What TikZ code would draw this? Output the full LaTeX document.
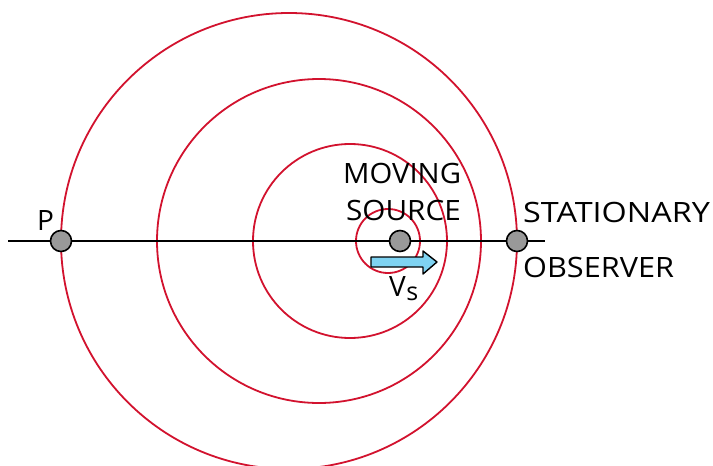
\documentclass[tikz,border=0pt]{standalone}
\usepackage{fontspec}
\setmainfont{Open Sans}
\definecolor{wavered}{HTML}{D2122E}
\definecolor{dotgrey}{HTML}{999999}
\definecolor{arrowblue}{HTML}{7FD3F2}
\begin{document}
\begin{tikzpicture}[x=1pt,y=-1pt,
  wave/.style={draw=wavered,line width=1.8pt},
  particle/.style={circle,draw=black,fill=dotgrey,line width=1.6pt,minimum size=21pt,inner sep=0pt},
  lbl/.style={font=\fontsize{28}{30}\selectfont,inner sep=0pt,anchor=base west}]
\clip (0,0) rectangle (713,466);
\useasboundingbox (0,0) rectangle (713,466);
\fill[white] (0,0) rectangle (713,466);
% wavefronts
\draw[wave] (289,241) circle (228);
\draw[wave] (319,241) circle (162);
\draw[wave] (350,241) circle (97);
\draw[wave] (388,241) circle (32);
% line
\coordinate (lstart) at (8,241);
\coordinate (lend) at (545,241);
\draw[line width=1.6pt] (lstart) -- (lend);
% particles
\node[particle] (P) at (61,241) {};
\node[particle] (S) at (400,241) {};
\node[particle] (O) at (517,241) {};
% labels
\node[lbl] (plbl) at (37,230) {P};
\node[lbl] (mov) at (343,183) {\scalebox{1.045}[1]{MOVING}};
\node[lbl] (src) at (346,220) {\scalebox{1.06}[1]{SOURCE}};
\node[lbl] (stat) at (523,222) {\scalebox{1.155}[1]{STATIONARY}};
\node[lbl] (obs) at (523,277) {\scalebox{1.095}[1]{OBSERVER}};
% velocity arrow
\draw[fill=arrowblue,line width=1.4pt,line join=round]
  (371,257) -- (423,257) -- (423,251) -- (437,262) -- (423,274) -- (423,267) -- (371,267) -- cycle;
\node[lbl] (vs) at (389,296) {V\kern0.5pt{\fontsize{25}{25}\selectfont\raisebox{-4pt}{s}}};
\end{tikzpicture}
\end{document}
